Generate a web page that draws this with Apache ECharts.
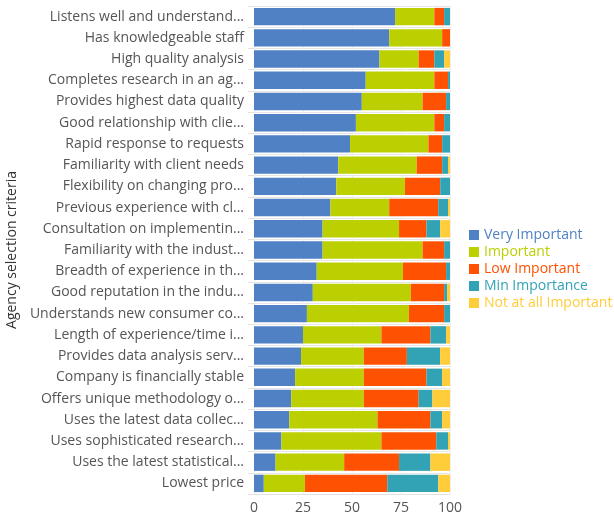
<!DOCTYPE html>
<html>
<head>
<meta charset="utf-8">
<script src="https://cdn.jsdelivr.net/npm/echarts@6/dist/echarts.min.js"></script>
<style>html,body{margin:0;padding:0;background:#fff}#c{width:614px;height:515px}</style>
</head>
<body>
<div id="c"></div>
<script>
const categories = [
  "Listens well and understand...",
  "Has knowledgeable staff",
  "High quality analysis",
  "Completes research in an ag...",
  "Provides highest data quality",
  "Good relationship with clie...",
  "Rapid response to requests",
  "Familiarity with client needs",
  "Flexibility on changing pro...",
  "Previous experience with cl...",
  "Consultation on implementin...",
  "Familiarity with the indust...",
  "Breadth of experience in th...",
  "Good reputation in the indu...",
  "Understands new consumer co...",
  "Length of experience/time i...",
  "Provides data analysis serv...",
  "Company is financially stable",
  "Offers unique methodology o...",
  "Uses the latest data collec...",
  "Uses sophisticated research...",
  "Uses the latest statistical...",
  "Lowest price"
];
const veryImportant = [72, 69, 64, 57, 55, 52, 49, 43, 42, 39, 35, 35, 32, 30, 27, 25, 24, 21, 19, 18, 14, 11, 5];
const important     = [20, 27, 20, 35, 31, 40, 40, 40, 35, 30, 39, 51, 44, 50, 52, 40, 32, 35, 37, 45, 51, 35, 21];
const lowImportant  = [5, 4, 8, 7, 12, 5, 7, 13, 18, 25, 14, 11, 22, 17, 18, 25, 22, 32, 28, 27, 28, 28, 42];
const minImportance = [3, 0, 5, 1, 2, 3, 4, 3, 5, 5, 7, 3, 2, 1.5, 3, 8, 17, 8, 7, 6, 6, 16, 26];
const notAtAll      = [0, 0, 3, 0, 0, 0, 0, 1, 0, 1, 5, 0, 0, 1.5, 0, 2, 5, 4, 9, 4, 1, 10, 6];
const xTicks = [0, 25, 50, 75, 100];

const seriesNames = ["Very Important", "Important", "Low Important", "Min Importance", "Not at all Important"];
const seriesData = [veryImportant, important, lowImportant, minImportance, notAtAll];
const colors = ["#4F81C4", "#BCD001", "#FE5202", "#32A2B5", "#FFCC3A"];

const chart = echarts.init(document.getElementById('c'));
chart.setOption({
  animation: false,
  color: colors,
  textStyle: { fontFamily: "'Open Sans', sans-serif" },
  grid: { left: 254, right: 164, top: 6, bottom: 21, containLabel: false },
  legend: {
    orient: 'vertical',
    left: 464,
    top: 223,
    itemWidth: 10,
    itemHeight: 10,
    itemGap: 3,
    icon: 'rect',
    data: seriesNames.map((n, i) => ({ name: n, textStyle: { color: colors[i], fontSize: 14 } })),
    textStyle: { fontSize: 14 }
  },
  xAxis: {
    type: 'value',
    min: 0, max: 100, interval: 25,
    axisLine: { show: true, lineStyle: { color: '#e2e2e2' } },
    axisTick: { show: false },
    axisLabel: { color: '#555', fontSize: 14, margin: 7, formatter: v => xTicks.includes(v) ? String(v) : '' },
    splitLine: { show: true, lineStyle: { color: '#f0f0f0' } }
  },
  yAxis: {
    type: 'category',
    inverse: true,
    data: categories,
    name: 'Agency selection criteria',
    nameLocation: 'middle',
    nameGap: 235,
    nameTextStyle: { color: '#333', fontSize: 14 },
    axisLine: { show: false },
    axisTick: { show: true, length: 6, lineStyle: { color: '#e2e2e2' } },
    axisLabel: { color: '#555', fontSize: 14, margin: 10 },
    splitLine: { show: true, lineStyle: { color: '#e6e6e6' } }
  },
  series: seriesNames.map((n, i) => ({
    name: n,
    type: 'bar',
    stack: 'total',
    data: seriesData[i],
    barCategoryGap: '18%',
    itemStyle: { color: colors[i] }
  }))
});
</script>
</body>
</html>
